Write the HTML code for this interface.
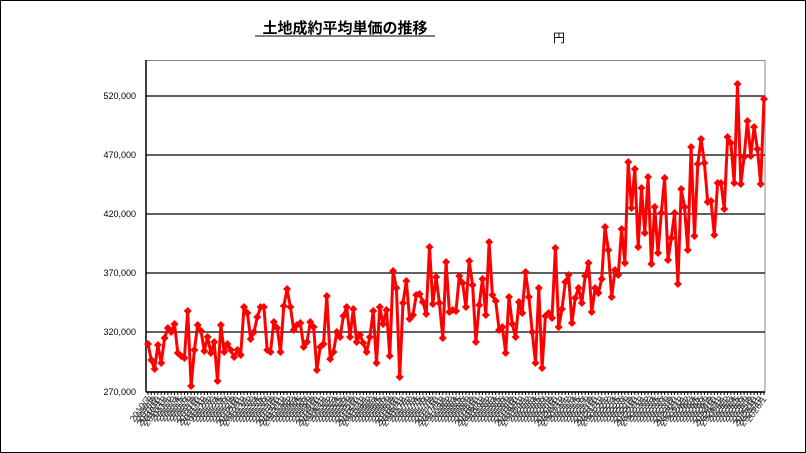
<!DOCTYPE html>
<html><head><meta charset="utf-8"><style>
body{margin:0;background:#fff;}
svg{display:block;}
text{font-family:"Liberation Sans","Noto Sans CJK JP",sans-serif;}
</style></head><body>
<svg id="s" width="806" height="453" xmlns="http://www.w3.org/2000/svg">
<rect x="0.5" y="0.5" width="805" height="452" fill="#fff" stroke="#000"/>
<text x="345" y="33" font-size="15" font-weight="bold" text-anchor="middle" font-family="Liberation Sans,Noto Sans CJK JP,sans-serif">土地成約平均単価の推移</text>
<line x1="255" y1="36" x2="435" y2="36" stroke="#000" stroke-width="1"/>
<text x="553" y="42" font-size="12" font-family="Liberation Sans,Noto Sans CJK JP,sans-serif">円</text>
<g id="g"></g>
</svg>
<script>
var g=document.getElementById('g'),h='';
var grid=[[96,'520,000'],[155,'470,000'],[214,'420,000'],[273,'370,000'],[332,'320,000'],[392,'270,000']];
h+='<rect x="146" y="60.5" width="619" height="331.5" fill="none" stroke="#888" stroke-width="1"/>';
grid.forEach(function(d){h+='<line x1="146" y1="'+d[0]+'" x2="765" y2="'+d[0]+'" stroke="#000" stroke-width="1.2"/>';
h+='<text x="136" y="'+(d[0]+3)+'" font-size="9" text-anchor="end">'+d[1]+'</text>';});
h+='<line x1="146" y1="60" x2="146" y2="392" stroke="#000" stroke-width="1.5"/>';
var ys=[344,360,369,345,363,338,328,332,324,353,356,358,311,386,350,325,331,351,337,353,342,381,325,352,344,350,357,350,355,307,313,339,332,317,307,307,350,352,322,328,352,306,289,307,330,325,323,347,342,322,327,370,347,344,296,359,352,332,337,316,307,337,309,342,335,343,352,337,311,363,307,324,310,356,271,288,377,303,281,319,315,295,294,302,314,247,304,277,303,338,262,312,310,311,276,
283,307,261,285,342,305,279,315,242,295,301,330,327,353,297,324,337,302,313,272,297,332,363,288,368,316,313,318,248,327,309,282,275,323,298,288,303,276,263,312,288,293,279,227,250,297,270,275,229,263,162,208,169,247,188,233,177,264,207,253,213,178,260,238,213,284,189,207,250,147,236,164,139,163,202,201,235,183,183,209,137,143,183,84,184,157,121,156,127,149,184,99];
var n=ys.length,x0=148,x1=764,dx=(x1-x0)/(n-1),pts=[];
for(var i=0;i<n;i++){pts.push((x0+i*dx).toFixed(1)+','+ys[i]);}
h+='<polyline points="'+pts.join(' ')+'" fill="none" stroke="#f00" stroke-width="3" stroke-linejoin="round"/>';
for(var i=0;i<n;i++){var x=x0+i*dx,y=ys[i];h+='<polygon points="'+x+','+(y-4)+' '+(x+4)+','+y+' '+x+','+(y+4)+' '+(x-4)+','+y+'" fill="#f00"/>';}
h+='<line x1="146" y1="392" x2="765" y2="392" stroke="#000" stroke-width="1.5"/>';
for(var i=0;i<n;i++){var x=x0+i*dx;h+='<line x1="'+x.toFixed(1)+'" y1="392" x2="'+x.toFixed(1)+'" y2="395" stroke="#000"/>';}
var yr=2010,mo=7;
for(var i=0;i<n;i++){var x=x0+i*dx;h+='<text transform="translate('+(x+3).toFixed(1)+',399) rotate(-55)" font-size="9.5" text-anchor="end" fill="#333">'+yr+'/'+mo+'</text>';
mo+=1;if(mo>12){mo=1;yr++;}}
g.innerHTML=h;
</script>
</body></html>
